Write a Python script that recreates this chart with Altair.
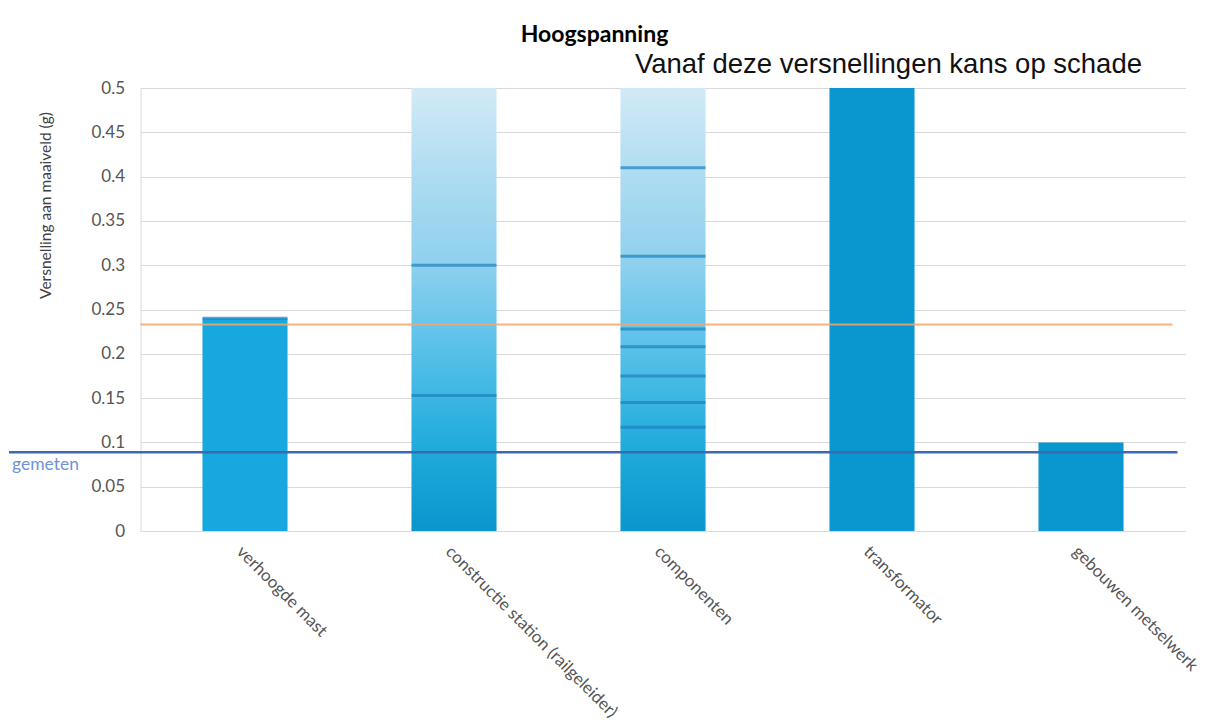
import altair as alt
import pandas as pd

# ---- data ----
categories = [
    "verhoogde mast",
    "constructie station (railgeleider)",
    "componenten",
    "transformator",
    "gebouwen metselwerk",
]
bar_values = [0.24, 0.5, 0.5, 0.5, 0.1]
bar_styles = ["licht", "verloop", "verloop", "donker", "donker"]

tick_categories = [
    "verhoogde mast",
    "constructie station (railgeleider)",
    "constructie station (railgeleider)",
    "componenten", "componenten", "componenten", "componenten",
    "componenten", "componenten", "componenten",
]
tick_values = [0.24, 0.3, 0.153, 0.41, 0.31, 0.228, 0.208, 0.175, 0.145, 0.117]

schade_grens = [0.233]
gemeten_waarde = [0.089]
y_ticks = [0, 0.05, 0.1, 0.15, 0.2, 0.25, 0.3, 0.35, 0.4, 0.45, 0.5]

title_text = "Hoogspanning"
subtitle_text = "Vanaf deze versnellingen kans op schade"
y_title = "Versnelling aan maaiveld (g)"
gemeten_label = "gemeten"

# ---- layout ----
W, H = 1045, 443
FONT = "Lato"

bars_df = pd.DataFrame({"categorie": categories, "waarde": bar_values, "stijl": bar_styles})
ticks_df = pd.DataFrame({"categorie": tick_categories, "waarde": tick_values})
grens_df = pd.DataFrame({"waarde": schade_grens})
gemeten_df = pd.DataFrame({"waarde": gemeten_waarde, "label": [gemeten_label]})
sub_df = pd.DataFrame({"t": [subtitle_text]})
title_df = pd.DataFrame({"t": [title_text]})

x_enc = alt.X(
    "categorie:N",
    sort=categories,
    scale=alt.Scale(paddingInner=0.593, paddingOuter=0.2965),
    axis=alt.Axis(
        title=None, labelAngle=45, labelAlign="left", labelBaseline="top",
        labelPadding=12, ticks=False, domain=False, grid=False,
        labelFont=FONT, labelFontSize=17, labelColor="#555555", labelLimit=500,
    ),
)
y_scale = alt.Scale(domain=[0, 0.5], nice=False)
y_enc = alt.Y(
    "waarde:Q",
    scale=y_scale,
    axis=alt.Axis(
        title=y_title, values=y_ticks, format="~g", ticks=False,
        domain=True, domainColor="#D9D9D9", gridColor="#D9D9D9",
        labelFont=FONT, labelFontSize=17, labelColor="#555555", labelPadding=16,
        titleFont=FONT, titleFontSize=15.5, titleFontWeight="normal", titleColor="#404040",
        titleX=-95, titleY=117, titleAngle=270, titleAlign="center", titleBaseline="middle",
    ),
)

gradient = alt.Gradient(
    gradient="linear",
    stops=[
        alt.GradientStop(color="#0996CC", offset=0),
        alt.GradientStop(color="#22ACDD", offset=0.2),
        alt.GradientStop(color="#55C0E8", offset=0.4),
        alt.GradientStop(color="#8ED0EE", offset=0.6),
        alt.GradientStop(color="#ADDCF1", offset=0.8),
        alt.GradientStop(color="#D2EAF6", offset=1),
    ],
    x1=0, x2=0, y1=1, y2=0,
)

base_bars = alt.Chart(bars_df)
bar_licht = base_bars.transform_filter(alt.datum.stijl == "licht").mark_bar(color="#17A8E0").encode(x=x_enc, y=y_enc)
bar_verloop = base_bars.transform_filter(alt.datum.stijl == "verloop").mark_bar(color=gradient).encode(x=x_enc, y=y_enc)
bar_donker = base_bars.transform_filter(alt.datum.stijl == "donker").mark_bar(color="#0A97CF").encode(x=x_enc, y=y_enc)

tick_marks = alt.Chart(ticks_df).mark_tick(color="#1B82BE", thickness=3, size=85).encode(
    x=alt.X("categorie:N", sort=categories), y=alt.Y("waarde:Q", scale=y_scale)
)

grens_rule = alt.Chart(grens_df).mark_rule(color="#F5A66B", strokeWidth=2, opacity=0.85).encode(
    y=alt.Y("waarde:Q", scale=y_scale), x=alt.value(0), x2=alt.value(1032)
)

gemeten_rule = alt.Chart(gemeten_df).mark_rule(color="#3A6BAF", strokeWidth=2.5).encode(
    y=alt.Y("waarde:Q", scale=y_scale), x=alt.value(-131.5), x2=alt.value(1037)
)
gemeten_text = alt.Chart(gemeten_df).mark_text(
    align="left", baseline="middle", dy=13, font=FONT, fontSize=17.5, color="#6E93D6"
).encode(y=alt.Y("waarde:Q", scale=y_scale), x=alt.value(-128.5), text="label:N")

sub_text = alt.Chart(sub_df).mark_text(
    align="right", baseline="alphabetic", font="Liberation Sans", fontSize=27.5, color="#111111"
).encode(x=alt.value(1001.5), y=alt.value(-15), text="t:N")

title_mark = alt.Chart(title_df).mark_text(
    align="center", baseline="alphabetic", font=FONT, fontSize=23, fontWeight="bold", color="#000000"
).encode(x=alt.value(454), y=alt.value(-46), text="t:N")

chart = alt.layer(
    bar_licht, bar_verloop, bar_donker, tick_marks, grens_rule, gemeten_rule, gemeten_text,
    sub_text, title_mark
).properties(
    width=W, height=H,
    autosize=alt.AutoSizeParams(type="none"),
    padding={"left": 132.5, "top": 80, "right": 22, "bottom": 190},
).configure_view(stroke=None).configure_axis(gridWidth=1)

chart.save("out.html", embed_options={"renderer": "svg", "actions": False})
